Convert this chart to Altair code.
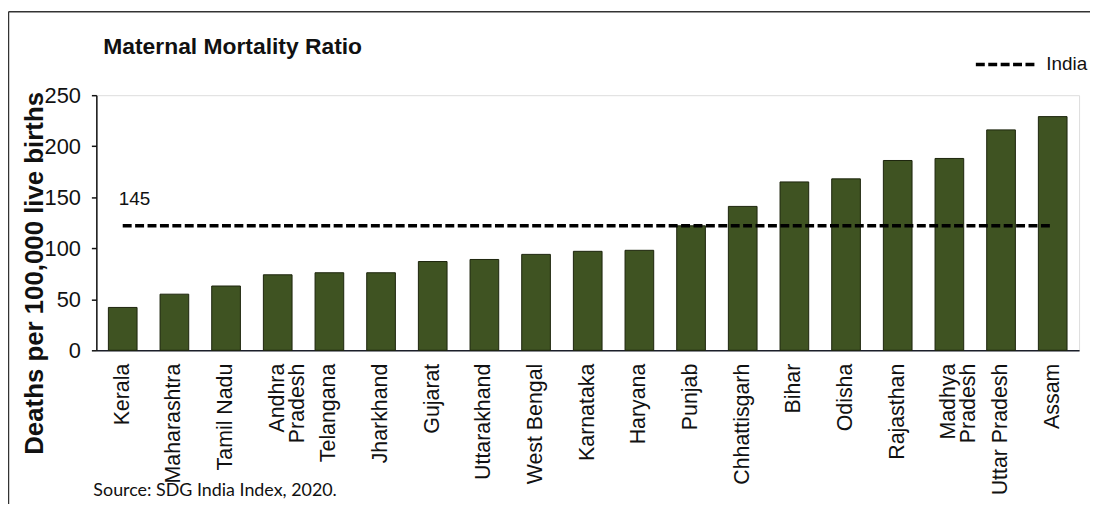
import altair as alt
import pandas as pd

# ---- data ----
states = ["Kerala", "Maharashtra", "Tamil Nadu", "Andhra Pradesh", "Telangana",
          "Jharkhand", "Gujarat", "Uttarakhand", "West Bengal", "Karnataka",
          "Haryana", "Punjab", "Chhattisgarh", "Bihar", "Odisha", "Rajasthan",
          "Madhya Pradesh", "Uttar Pradesh", "Assam"]
mmr = [42, 55, 63, 74, 76, 76, 87, 89, 94, 97, 98, 122, 141, 165, 168, 186,
       188, 216, 229]
india_value = 122
india_label = "145"
series_name = "India"
y_ticks = [0, 50, 100, 150, 200, 250]
title_text = "Maternal Mortality Ratio"
y_title = "Deaths per 100,000 live births"
source_text = "Source: SDG India Index, 2020."

df = pd.DataFrame({"state": states, "mmr": mmr})
df["india"] = india_value
df["series"] = series_name

lab_df = pd.DataFrame({"state": [states[0]], "v": [145], "label": [india_label]})
src_df = pd.DataFrame({"t": [source_text]})
ttl_df = pd.DataFrame({"t": [title_text]})

FONT = "Liberation Sans"
W, H = 990, 257

xscale = alt.Scale(paddingInner=0.445, paddingOuter=0.233)
yscale = alt.Scale(domain=[0, 250], nice=False)

x_enc = alt.X(
    "state:N", sort=states, scale=xscale, title=None,
    axis=alt.Axis(
        labelAngle=-90, ticks=False, labelPadding=13, labelFontSize=21.5,
        labelFont=FONT, labelColor="#111111", labelOverlap=False, labelLimit=300,
        labelLineHeight=20, domainColor="#1b1f2a", domainWidth=1.5,
        labelExpr="(datum.value == 'Andhra Pradesh' || datum.value == 'Madhya Pradesh') ? split(datum.value, ' ') : datum.value",
    ),
)

y_enc = alt.Y(
    "mmr:Q", scale=yscale, title=y_title,
    axis=alt.Axis(
        values=y_ticks, grid=False, tickSize=5, tickColor="#111111",
        tickWidth=1.5, labelPadding=11, labelFontSize=22, labelFont=FONT,
        labelColor="#111111", domainColor="#111111", domainWidth=1.5,
        titleFont=FONT, titleFontSize=26, titleFontWeight="bold",
        titleColor="#111111", titleAngle=-90, titleAlign="center",
        titleBaseline="alphabetic", titleX=-54, titleY=179,
    ),
)

bars = alt.Chart(df).mark_bar(
    color="#3f5322", stroke="#1c240c", strokeWidth=1
).encode(x=x_enc, y=y_enc)

line = alt.Chart(df).mark_line(
    strokeDash=[9, 3.5], strokeWidth=3.5
).encode(
    x=alt.X("state:N", sort=states),
    y=alt.Y("india:Q"),
    color=alt.Color(
        "series:N",
        scale=alt.Scale(domain=[series_name], range=["#000000"]),
        legend=alt.Legend(
            title=None, orient="none", legendX=884, legendY=-64, padding=0,
            symbolType="stroke", symbolSize=3844, symbolStrokeWidth=3.5,
            symbolDash=[9, 3.5], symbolStrokeColor="#000000",
            labelFontSize=19, labelFont=FONT, labelColor="#111111",
            labelOffset=7,
        ),
    ),
)

lab = alt.Chart(lab_df).mark_text(
    align="left", baseline="middle", dx=-4, dy=-3, fontSize=19, font=FONT,
    color="#111111"
).encode(x=alt.X("state:N", sort=states), y=alt.Y("v:Q"), text="label:N")

ttl = alt.Chart(ttl_df).mark_text(
    align="left", baseline="alphabetic", fontSize=23, font=FONT,
    fontWeight="bold", color="#111111"
).encode(x=alt.value(7), y=alt.value(-41), text="t:N")

src = alt.Chart(src_df).mark_text(
    align="left", baseline="alphabetic", fontSize=18, font="Lato",
    color="#111111"
).encode(x=alt.value(-3), y=alt.value(404), text="t:N")

border_left = alt.Chart(src_df).mark_rule(color="#333333", strokeWidth=1.5).encode(
    x=alt.value(-88.5), y=alt.value(-84), y2=alt.value(420)
)
border_top = alt.Chart(src_df).mark_rule(color="#333333", strokeWidth=1.5).encode(
    x=alt.value(-88.5), x2=alt.value(1005), y=alt.value(-84)
)

chart = alt.layer(bars, line, lab, ttl, src, border_left, border_top).properties(
    width=W, height=H,
    padding={"left": 89, "top": 86, "right": 11, "bottom": 153},
    autosize=alt.AutoSizeParams(type="none"),
).configure_view(stroke=None).configure(background="white")

chart.save("out.html", embed_options={"renderer": "svg", "actions": False})
